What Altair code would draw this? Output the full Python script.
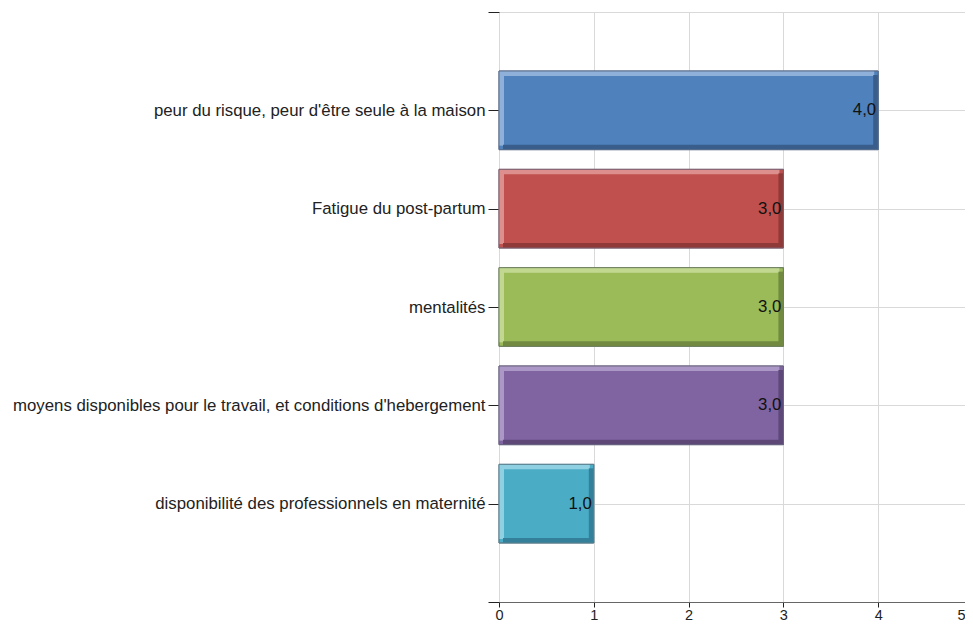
import json
import altair as alt
import pandas as pd

categories = [
    "peur du risque, peur d'être seule à la maison",
    "Fatigue du post-partum",
    "mentalités",
    "moyens disponibles pour le travail, et conditions d'hebergement",
    "disponibilité des professionnels en maternité",
]
values = [4.0, 3.0, 3.0, 3.0, 1.0]
x_ticks = [0, 1, 2, 3, 4, 5]

base_colors = ["#4f81bd", "#c0504d", "#9bbb59", "#8064a2", "#4bacc6"]
light_colors = ["#8fb0d9", "#dc8f8d", "#c2d890", "#ab98c6", "#8fd0e2"]
dark_colors = ["#395e8c", "#8f3a38", "#718a40", "#5d4878", "#34809a"]
edge_colors = ["#5a6f8c", "#7d6070", "#6f8060", "#6a6480", "#5a7f8c"]

FONT = "Liberation Sans"
FS = 16.8
FS_X = 14.5

n = len(categories)
df = pd.DataFrame({
    "cat": categories,
    "value": values,
    "pos": list(range(1, n + 1)),
    "label": [f"{v:.1f}".replace(".", ",") for v in values],
})
df["lo"] = df["pos"] - 0.4
df["hi"] = df["pos"] + 0.4
df["zero"] = 0

ylabels = [""] + categories + [""]
label_expr = json.dumps(ylabels) + "[datum.value]"
xmax = max(x_ticks)

yscale = alt.Scale(domain=[0, n + 1], reverse=True, nice=False, zero=False)
xscale = alt.Scale(domain=[0, xmax], nice=False)

def cscale(rng):
    return alt.Scale(domain=categories, range=rng)

base = alt.Chart(df)

bars = base.mark_rect(strokeWidth=1).encode(
    x=alt.X("zero:Q", scale=xscale,
            axis=alt.Axis(values=x_ticks, title=None, grid=True, gridColor="#d9d9d9",
                          domainColor="#666666", tickColor="#222222", tickSize=5,
                          labelFont=FONT, labelFontSize=FS_X, labelColor="#222222",
                          labelPadding=1, format="d",
                          labelAlign={"expr": f"datum.value == {xmax} ? 'right' : 'center'"},
                          labelOffset={"expr": f"datum.value == {xmax} ? -8 : 0"})),
    x2="value:Q",
    y=alt.Y("lo:Q", scale=yscale,
            axis=alt.Axis(values=list(range(0, n + 2)), labelExpr=label_expr, title=None,
                          grid=True, gridColor="#d9d9d9", domain=False,
                          tickColor="#222222", tickSize=11,
                          labelFont=FONT, labelFontSize=FS, labelColor="#222222",
                          labelPadding=3, labelLimit=700)),
    y2="hi:Q",
    fill=alt.Color("cat:N", scale=cscale(base_colors), legend=None),
    stroke=alt.Stroke("cat:N", scale=cscale(edge_colors), legend=None),
)

top_strip = base.mark_rect(y2Offset=5, x2Offset=-4).encode(
    x="zero:Q", x2="value:Q", y="lo:Q", y2="lo:Q",
    fill=alt.Color("cat:N", scale=cscale(light_colors), legend=None),
)
left_strip = base.mark_rect(x2Offset=5, y2Offset=-4).encode(
    x="zero:Q", x2="zero:Q", y="lo:Q", y2="hi:Q",
    fill=alt.Color("cat:N", scale=cscale(light_colors), legend=None),
)
right_strip = base.mark_rect(xOffset=-5, yOffset=4).encode(
    x="value:Q", x2="value:Q", y="lo:Q", y2="hi:Q",
    fill=alt.Color("cat:N", scale=cscale(dark_colors), legend=None),
)
bottom_strip = base.mark_rect(yOffset=-5, xOffset=4).encode(
    x="zero:Q", x2="value:Q", y="hi:Q", y2="hi:Q",
    fill=alt.Color("cat:N", scale=cscale(dark_colors), legend=None),
)
outline = base.mark_rect(fillOpacity=0, strokeWidth=1).encode(
    x="zero:Q", x2="value:Q", y="lo:Q", y2="hi:Q",
    stroke=alt.Stroke("cat:N", scale=cscale(edge_colors), legend=None),
)

text = base.mark_text(align="right", baseline="middle", dx=-2, font=FONT,
                      fontSize=FS, color="#111111").encode(
    x="value:Q", y="pos:Q", text="label:N",
)

chart = alt.layer(bars, top_strip, left_strip, right_strip, bottom_strip, outline, text).resolve_scale(
    fill="independent", stroke="independent"
).properties(
    width=474, height=590,
    autosize=alt.AutoSizeParams(type="none"),
    padding={"left": 491, "top": 4, "right": -8, "bottom": 23},
).configure_view(stroke=None)

chart.save("out.html", embed_options={"renderer": "svg", "actions": False})
